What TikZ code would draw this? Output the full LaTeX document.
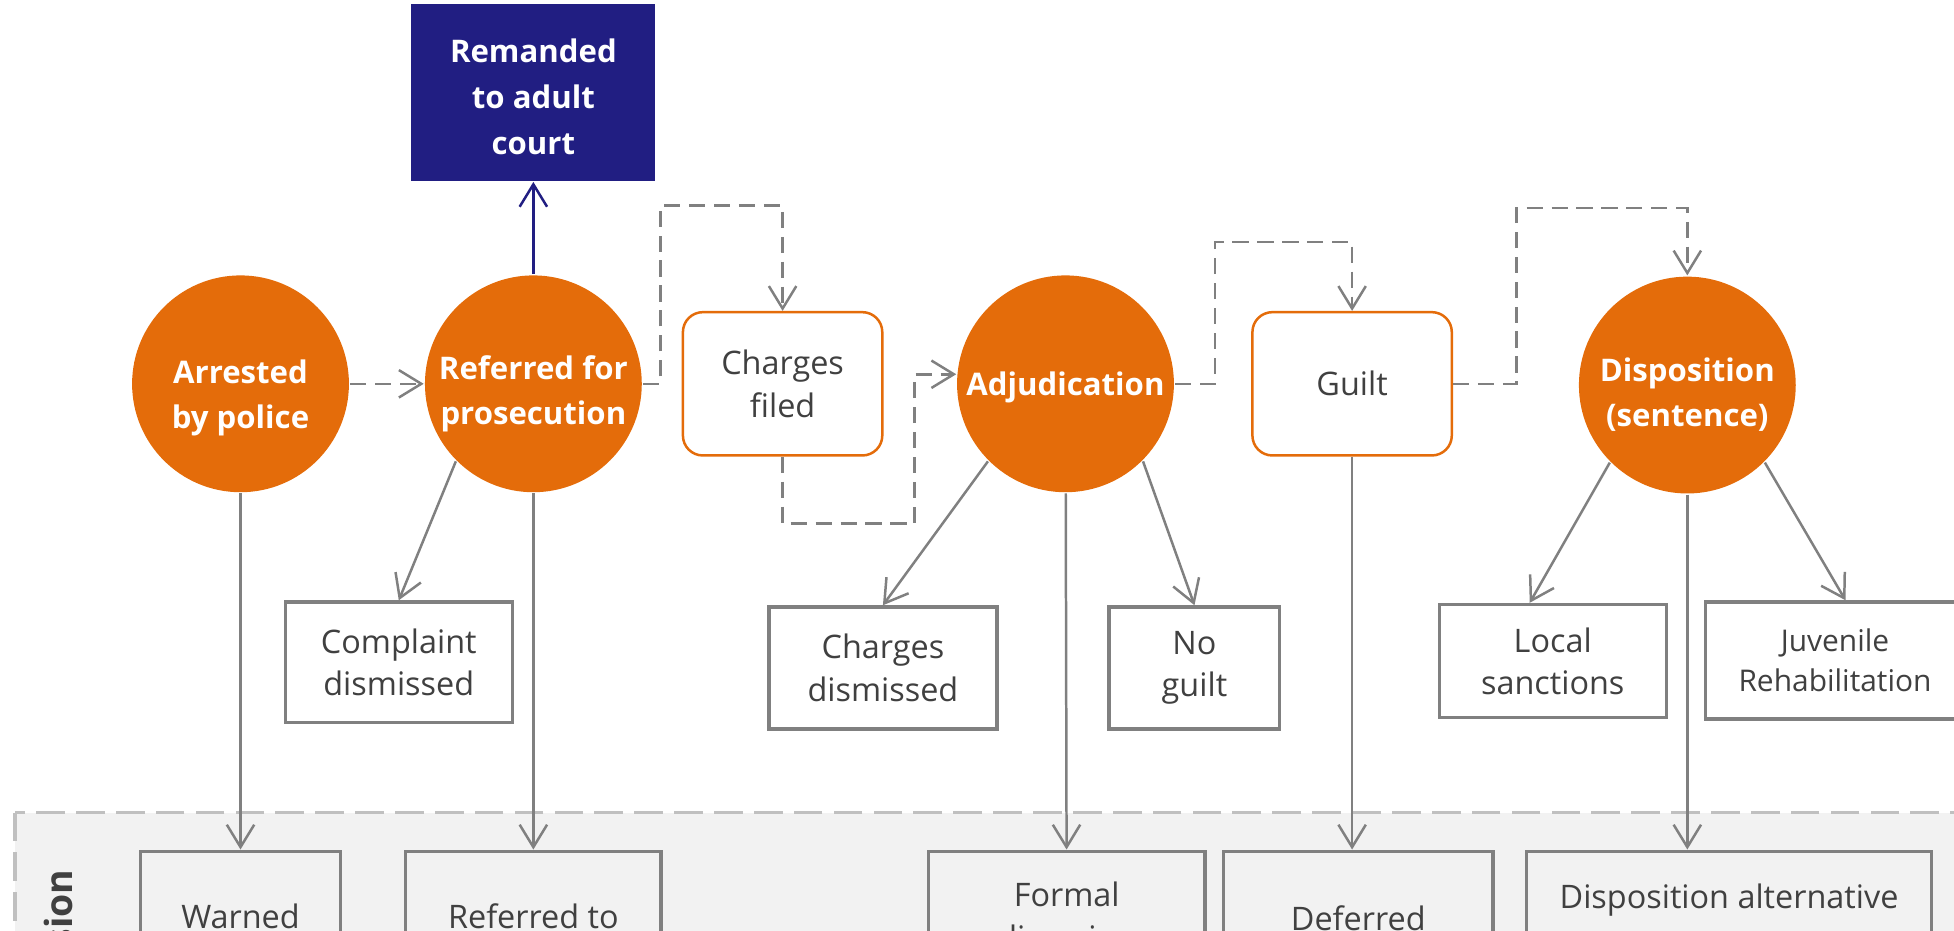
\documentclass[tikz,border=0pt]{standalone}
\usepackage{fontspec}
\setmainfont{Open Sans}
\usetikzlibrary{positioning,arrows.meta,calc}
\definecolor{stageorange}{RGB}{228,108,10}
\definecolor{courtblue}{RGB}{33,30,130}
\definecolor{linegray}{RGB}{128,128,128}
\definecolor{txtgray}{RGB}{64,64,64}
\definecolor{zonefill}{RGB}{242,242,242}
\definecolor{zoneline}{RGB}{192,192,192}
\tikzset{
flow/.style={
    >={Straight Barb[length=9pt,width=11pt]},
    x=0.5pt,
    y=-0.5pt,
    line width=1pt,
    font=\fontsize{13}{17}\selectfont,
    text=txtgray
},
stage/.style={
    circle,
    fill=stageorange,
    minimum size=87pt,
    inner sep=0pt,
    align=center,
    text=white,
    font=\fontsize{12.5}{18}\selectfont\bfseries
},
lowered/.style={
    execute at begin node={\rule{0pt}{#1}}
},
court/.style={
    rectangle,
    fill=courtblue,
    minimum width=98pt,
    minimum height=71pt,
    align=center,
    text=white,
    font=\fontsize{12.5}{18.5}\selectfont\bfseries
},
gate/.style={
    rectangle,
    rounded corners=8pt,
    draw=stageorange,
    fill=white,
    minimum width=80pt,
    minimum height=57.5pt,
    align=center
},
outcome/.style={
    rectangle,
    draw=linegray,
    fill=white,
    align=center,
    line width=1.3pt
},
sees/.style={
    ->,
    draw=linegray
},
maybe/.style={
    ->,
    draw=linegray,
    dash pattern=on 6.5pt off 3.5pt
}}

\begin{document}
\begin{tikzpicture}[flow]
\useasboundingbox (0,0) rectangle (1568,747);
\clip (0,0) rectangle (1568,747);

% diversion zone
\path[fill=zonefill, draw=zoneline, line width=1.5pt, dash pattern=on 11.5pt off 4.5pt]
    (12,652) rectangle (1640,820);
\node    (divlbl) [rotate=90, anchor=east, inner sep=0pt,
                   font=\fontsize{15}{18}\selectfont\bfseries] at (47,697) {Diversion};

% stages
\node    (arr)    [stage, lowered=38.5pt] at (193,308)   {Arrested\\by police};
\node    (ref)    [stage, lowered=35.5pt] at (428,308)   {Referred for\\prosecution};
\node    (adj)    [stage, lowered=12.5pt] at (855,308)   {Adjudication};
\node    (disp)   [stage, lowered=35.5pt] at (1354,309)  {Disposition\\(sentence)};
\node    (adult)  [court, lowered=50pt, above=37pt of ref] {Remanded\\to adult\\court};
\node    (chg)    [gate]  at (628,308)   {Charges\\filed};
\node    (guilt)  [gate]  at (1085,308)  {Guilt};

% exits
\node    (cdis)   [outcome, minimum width=91pt, minimum height=48.5pt]   at (320,531.5)  {Complaint\\dismissed};
\node    (chdis)  [outcome, minimum width=91.5pt, minimum height=49pt]   at (708.5,536)  {Charges\\dismissed};
\node    (nog)    [outcome, minimum width=68.5pt, minimum height=49pt]   at (958.5,536)  {No\\guilt};
\node    (loc)    [outcome, minimum width=91pt, minimum height=45.5pt]   at (1246,530.5) {Local\\sanctions};
\node    (juv)    [outcome, minimum width=104pt, minimum height=47pt,
                   font=\fontsize{12}{16}\selectfont]                    at (1472.5,530) {Juvenile\\Rehabilitation};

% diversion
\node    (warn)   [outcome, fill=none, minimum width=80pt, minimum height=52pt]    at (193,735)    {Warned};
\node    (refto)  [outcome, fill=none, minimum width=102.5pt, minimum height=52pt] at (428,735)    {Referred to};
\node    (formal) [outcome, fill=none, minimum width=111pt, minimum height=52pt]   at (856,735)    {Formal\\diversion};
\node    (defer)  [outcome, fill=none, minimum width=108pt, minimum height=54pt]   at (1090,737)   {Deferred};
\node    (dalt)   [outcome, fill=none, minimum width=162.5pt, minimum height=39pt] at (1387.5,722) {Disposition alternative};

\coordinate (rc) at (530,165);
\coordinate (ca) at (734,420);
\coordinate (ag) at (975,194);
\coordinate (gd) at (1217,167);

\path    (arr)    edge[maybe]    (ref);
\draw[maybe]  (ref.east) -| (rc) -| (chg.north);
\draw[maybe]  (chg.south) |- (ca) |- (adj.175);
\draw[maybe]  (adj.east) -| (ag) -| (guilt.north);
\draw[maybe]  (guilt.east) -| (gd) -| (disp.north);

\path    (ref)    edge[sees, draw=courtblue]    (adult);

\path    (ref.225)    edge[sees]    (cdis.north);
\path    (adj.225)    edge[sees]    (chdis.north);
\path    (adj.315)    edge[sees]    (nog.north);
\path    (disp.225)   edge[sees]    ($(loc.north west)!0.4!(loc.north east)$);
\path    (disp.315)   edge[sees]    ($(juv.north west)!0.54!(juv.north east)$);

\path    (arr)    edge[sees]    (warn);
\path    (ref)    edge[sees]    (refto);
\path    (adj)    edge[sees]    (formal);
\path    (guilt.south)    edge[sees]    (guilt.south |- defer.north);
\path    (disp.south)     edge[sees]    (disp.south |- dalt.north);
\end{tikzpicture}
\end{document}
